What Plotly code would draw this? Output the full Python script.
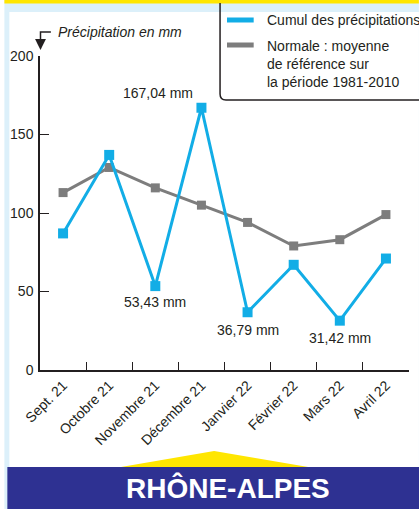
import plotly.graph_objects as go

months = ["Sept. 21", "Octobre 21", "Novembre 21", "Décembre 21",
          "Janvier 22", "Février 22", "Mars 22", "Avril 22"]
cumul = [87, 137, 53.43, 167.04, 36.79, 67, 31.42, 71]
normale = [113, 129, 116, 105, 94, 79, 83, 99]
y_ticks = [0, 50, 100, 150, 200]

label_months = ["Décembre 21", "Novembre 21", "Janvier 22", "Mars 22"]
label_values = [167.04, 53.43, 36.79, 31.42]
label_texts = ["167,04 mm", "53,43 mm", "36,79 mm", "31,42 mm"]
label_shift = [(-43, 15), (0, -16), (0, -18), (0, -17)]

W, H = 419, 509
L, R, T, B = 36, 10, 56, 139
PW, PH = W - L - R, H - T - B

def px(x):
    return (x - L) / PW

def py(y):
    return (H - B - y) / PH

BLUE = "#12ade6"
GRAY = "#7d7d7d"
NAVY = "#2e3192"
YEL = "#ffe600"
LBLUE = "#dcf0fa"
FONT = "Liberation Sans, Arial, sans-serif"

fig = go.Figure()
fig.add_trace(go.Scatter(x=months, y=normale, mode="lines+markers",
                         line=dict(color=GRAY, width=3),
                         marker=dict(symbol="square", size=9, color=GRAY),
                         showlegend=False, cliponaxis=False))
fig.add_trace(go.Scatter(x=months, y=cumul, mode="lines+markers",
                         line=dict(color=BLUE, width=3),
                         marker=dict(symbol="square", size=10, color=BLUE),
                         showlegend=False, cliponaxis=False))

shapes = []
# backgrounds
shapes.append(dict(type="rect", xref="paper", yref="paper", x0=px(0), x1=px(W), y0=py(0), y1=py(H),
                   fillcolor=LBLUE, line=dict(width=0), layer="below"))
shapes.append(dict(type="rect", xref="paper", yref="paper", x0=px(5), x1=px(W), y0=py(12), y1=py(467),
                   fillcolor="white", line=dict(width=0), layer="below"))
shapes.append(dict(type="rect", xref="paper", yref="paper", x0=px(0), x1=px(W), y0=py(0), y1=py(3.5),
                   fillcolor=YEL, line=dict(width=0), layer="below"))
# legend box with rounded bottom-left corner
r = 6
path = (f"M {px(218)},{py(3)} L {px(218)},{py(100 - r)} "
        f"Q {px(218)},{py(100)} {px(218 + r)},{py(100)} L {px(422)},{py(100)}")
shapes.append(dict(type="path", xref="paper", yref="paper", path=path,
                   line=dict(color="#231f20", width=1.5)))
shapes.append(dict(type="line", xref="paper", yref="paper", x0=px(225), x1=px(252), y0=py(20), y1=py(20),
                   line=dict(color=BLUE, width=5)))
shapes.append(dict(type="line", xref="paper", yref="paper", x0=px(225), x1=px(252), y0=py(45), y1=py(45),
                   line=dict(color=GRAY, width=5)))
# axis title arrow
shapes.append(dict(type="path", xref="paper", yref="paper",
                   path=f"M {px(47)},{py(32)} L {px(36.5)},{py(32)} L {px(36.5)},{py(40)}",
                   line=dict(color="#231f20", width=1.5)))
shapes.append(dict(type="path", xref="paper", yref="paper",
                   path=f"M {px(31)},{py(39)} L {px(42)},{py(39)} L {px(36.5)},{py(50)} Z",
                   fillcolor="#231f20", line=dict(width=0)))
# bottom banner
shapes.append(dict(type="path", xref="paper", yref="paper",
                   path=f"M {px(112)},{py(468)} L {px(212)},{py(451)} L {px(313)},{py(468)} Z",
                   fillcolor=YEL, line=dict(width=0)))
shapes.append(dict(type="rect", xref="paper", yref="paper", x0=px(3), x1=px(W + 2), y0=py(467), y1=py(H + 2),
                   fillcolor=NAVY, line=dict(width=0)))

annotations = []
for m, v, t, (dx, dy) in zip(label_months, label_values, label_texts, label_shift):
    annotations.append(dict(x=m, y=v, xref="x", yref="y", text=t, showarrow=False,
                            xshift=dx, yshift=dy, font=dict(family=FONT, size=14, color="#231f20")))
annotations.append(dict(x=px(52), y=py(32), xref="paper", yref="paper", xanchor="left", yanchor="middle",
                        text="<i>Précipitation en mm</i>", showarrow=False,
                        font=dict(family=FONT, size=14, color="#231f20")))
annotations.append(dict(x=px(263), y=py(20), xref="paper", yref="paper", xanchor="left", yanchor="middle",
                        text="Cumul des précipitations", showarrow=False,
                        font=dict(family=FONT, size=14, color="#231f20")))
annotations.append(dict(x=px(263), y=py(36), xref="paper", yref="paper", xanchor="left", yanchor="top",
                        text="Normale : moyenne<br>de référence sur<br>la période 1981-2010", showarrow=False,
                        align="left", font=dict(family=FONT, size=14, color="#231f20")))
annotations.append(dict(x=px(226), y=py(488), xref="paper", yref="paper", xanchor="center", yanchor="middle",
                        text="<b>RHÔNE-ALPES</b>", showarrow=False,
                        font=dict(family="Liberation Sans Narrow, Liberation Sans, Arial, sans-serif",
                                  size=28, color="white")))

fig.update_layout(
    width=W, height=H,
    margin=dict(l=L, r=R, t=T, b=B, pad=0),
    paper_bgcolor="white", plot_bgcolor="rgba(0,0,0,0)",
    shapes=shapes, annotations=annotations,
    font=dict(family=FONT, color="#231f20"),
    xaxis=dict(type="category", range=[-0.5, 7.5], tickson="boundaries", ticks="inside", ticklen=8,
               tickwidth=1.3, tickcolor="#231f20", showline=True, linecolor="#231f20", linewidth=1.5,
               showgrid=False, zeroline=False, tickangle=-45, tickfont=dict(size=14), fixedrange=True),
    yaxis=dict(range=[0, 200], tickvals=y_ticks, ticks="inside", ticklen=9, tickwidth=1.3,
               tickcolor="#231f20", showline=True, linecolor="#231f20", linewidth=1.5,
               showgrid=False, zeroline=False, tickfont=dict(size=14), ticklabelstandoff=2, fixedrange=True),
)

fig.write_html("out.html")
